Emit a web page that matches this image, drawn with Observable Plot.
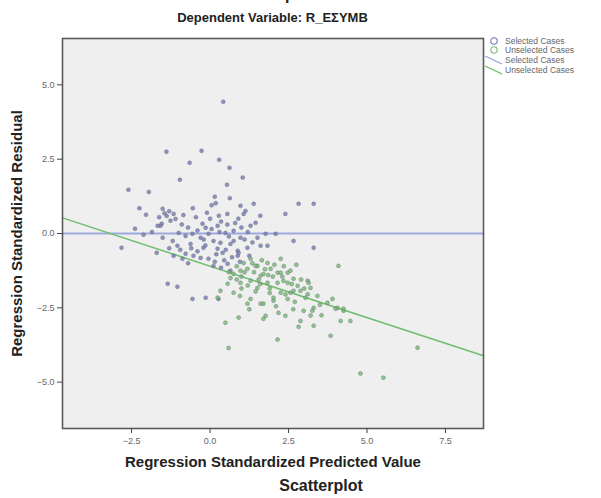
<!DOCTYPE html>
<html>
<head>
<meta charset="utf-8">
<script src="https://cdn.jsdelivr.net/npm/d3@7"></script>
<script src="https://cdn.jsdelivr.net/npm/@observablehq/plot@0.6"></script>
<style>
  body { margin: 0; background: #fff; font-family: "Liberation Sans", Arial, sans-serif; }
  #wrap { position: relative; width: 601px; height: 498px; overflow: hidden; }
  .head { position: relative; height: 30px; }
  .head div { position: absolute; left: 0; width: 545px; text-align: center; font-weight: bold; color: #222; white-space: nowrap; }
  .foot { position: relative; height: 22px; }
  .foot div { position: absolute; left: 0; width: 642px; text-align: center; font-weight: bold; font-size: 16px; color: #222; top: 1px; }
  .legend { position: absolute; left: 485px; top: 36px; font-size: 8.5px; color: #666; white-space: nowrap; }
  .legend .row { display: flex; align-items: center; height: 9.6px; }
  .legend svg { margin-right: 3px; }
</style>
</head>
<body>
<div id="wrap">
  <div class="head">
    <div style="top:-14px;font-size:16px">Scatterplot</div>
    <div style="top:10px;font-size:13px">Dependent Variable: R_ΕΣΥΜΒ</div>
  </div>
  <div id="chart"></div>
  <div class="foot"><div>Scatterplot</div></div>
  <div class="legend" id="legend"></div>
</div>
<script>
// Regression residual diagnostics: standardized predicted value vs standardized residual
const xTicks = [-2.5, 0, 2.5, 5, 7.5];
const yTicks = [-5, -2.5, 0, 2.5, 5];
const xDomain = [-4.70, 8.71];
const yDomain = [-6.56, 6.56];

// Selected cases
const selectedX = [0.42,-1.39,-0.27,-0.65,0.29,0.62,-0.96,1.04,-2.60,-1.95,0.54,0.15,0.63,0.18,-2.04,
  -1.51,-1.38,-1.16,-1.26,-1.54,-1.45,-1.10,0.97,1.13,1.39,1.07,0.55,0.28,-2.39,2.82,2.40,
  -0.24,-0.14,0.24,0.49,0.75,1.29,1.45,0.97,1.51,1.77,2.09,-1.00,-0.78,-0.56,-0.05,-0.30,
  0.11,0.33,0.65,-0.62,-0.21,0.24,0.40,0.88,1.19,1.61,1.83,-1.19,-1.04,-0.78,-0.53,-0.30,
  -0.05,-1.16,-0.88,0.11,0.56,0.88,0.91,-1.58,-1.51,-1.67,-2.12,-2.82,3.30,2.66,3.30,
  -1.35,-1.04,-0.56,-0.14,0.27,0.00,0.35,-0.45,0.80,1.00,-0.90,0.60,0.20,-0.60,0.45,0.70,1.10,-0.15,
  -1.30,-1.62,-0.85,-0.70,-0.40,-0.20,0.05,0.30,0.55,0.90,1.20,1.35,0.75,0.50,0.15,-0.40,-0.95,
  -1.30,-0.70,0.35,0.65,-0.10,0.05,-0.55,1.60,-2.25,-1.85,-1.70,0.95,1.25];
const selectedY = [4.43,2.75,2.78,2.38,2.48,2.21,1.81,1.88,1.47,1.40,1.64,1.24,1.19,1.02,0.63,
  0.83,0.59,0.66,0.43,0.33,0.68,0.49,0.93,0.76,1.00,0.66,0.66,0.60,0.16,1.00,0.66,
  0.33,0.19,0.26,0.02,0.09,0.26,0.36,-0.14,-0.14,-0.01,-0.01,0.02,-0.08,-0.01,-0.01,-0.14,
  -0.25,-0.31,-0.35,-0.35,-0.48,-0.51,-0.65,-0.58,-0.48,-0.41,-0.41,-0.25,-0.41,-0.68,-0.75,-0.82,
  -0.85,-0.75,-0.85,-1.09,-1.02,-0.75,-0.65,0.26,-0.14,0.26,-0.04,-0.48,1.00,-0.25,-0.48,
  -1.69,-1.79,-2.20,-2.16,-2.20,0.50,0.40,0.55,0.35,0.20,0.30,-0.10,-0.70,-0.50,-0.90,-0.80,-0.20,-0.40,
  0.75,0.55,0.62,0.20,0.10,-0.20,0.15,0.05,0.30,0.50,0.05,-0.30,-0.25,-0.55,-0.95,-0.60,-0.55,
  -0.50,-1.00,-1.15,-1.25,0.70,0.95,0.85,0.60,0.85,0.05,-0.65,-0.95,-0.75];

// Unselected cases
const unselectedX = [1.07,1.29,1.19,0.97,0.75,1.51,1.83,2.25,1.93,2.15,2.47,1.61,1.29,0.97,0.56,1.83,
  1.51,2.15,2.47,2.79,3.11,2.66,3.11,3.42,3.74,4.06,4.25,3.30,2.98,3.20,2.47,2.02,1.70,1.29,
  1.19,0.75,0.33,0.24,1.45,1.70,2.25,2.56,2.34,2.66,3.14,3.20,2.88,2.56,2.25,2.02,1.61,3.04,
  3.26,4.00,4.25,4.16,4.47,2.18,2.40,1.77,1.70,2.88,3.30,2.82,2.15,3.84,6.61,4.79,5.52,0.91,
  0.49,0.59,4.09,1.00,1.40,0.85,1.60,1.20,2.00,1.90,2.70,0.60,1.75,2.35,
  1.10,1.35,1.55,1.00,1.85,2.05,2.30,2.60,2.90,3.00,2.40,1.45,0.85,0.65,1.90,2.10,2.65,3.50,
  3.55,0.95,1.65,2.75,1.25,3.90];
const unselectedY = [-0.99,-0.85,-1.19,-1.25,-1.36,-1.09,-0.99,-0.85,-1.19,-1.32,-1.32,-1.42,-1.59,-1.66,-1.69,-1.66,
  -1.83,-1.66,-1.66,-1.76,-1.59,-1.93,-2.04,-2.10,-2.33,-2.50,-2.60,-2.50,-2.60,-2.76,-2.20,-2.26,-2.36,-2.20,
  -2.36,-1.99,-1.93,-2.16,-1.09,-1.36,-1.32,-1.25,-1.59,-1.52,-1.66,-1.83,-1.93,-1.99,-1.99,-2.16,-2.36,-2.16,
  -2.60,-2.53,-2.53,-2.94,-2.94,-2.67,-2.77,-2.77,-2.87,-2.94,-3.10,-3.14,-3.57,-3.44,-3.84,-4.71,-4.85,-2.83,
  -3.00,-3.85,-1.09,-1.45,-1.30,-1.10,-1.70,-1.75,-1.45,-1.85,-2.30,-1.30,-1.20,-1.10,
  -1.30,-1.00,-1.55,-1.85,-1.40,-1.05,-1.45,-1.70,-1.55,-1.85,-2.05,-1.95,-1.55,-1.50,-2.00,-2.45,-2.55,-2.40,
  -2.75,-2.10,-0.90,-1.05,-2.55,-2.20];

// Linear fit lines: [intercept, slope]
const fitSelected = [0, 0];
const fitUnselected = [-1.10, -0.346];

const groups = ["Selected Cases", "Unselected Cases"];
const colors = ["#737ab6", "#72bc72"];
const lineColors = ["#9eaadd", "#6fbd6f"];
const lineWidths = [2, 1.5];

const points = [
  ...selectedX.map((x, i) => ({x, y: selectedY[i], g: groups[0]})),
  ...unselectedX.map((x, i) => ({x, y: unselectedY[i], g: groups[1]}))
];
const fitRows = (coef, g) => xDomain.map(x => ({x, y: coef[0] + coef[1] * x, g}));
const fits = [...fitRows(fitSelected, groups[0]), ...fitRows(fitUnselected, groups[1])];

const chart = Plot.plot({
  width: 601,
  height: 446,
  marginLeft: 62,
  marginRight: 118,
  marginTop: 8,
  marginBottom: 48,
  style: {fontFamily: "Liberation Sans, Arial, sans-serif", background: "transparent"},
  x: {domain: xDomain},
  y: {domain: yDomain},
  color: {domain: groups, range: colors},
  marks: [
    Plot.frame({fill: "#efefef", stroke: "none"}),
    Plot.line(fits, {x: "x", y: "y", z: "g", stroke: "g", strokeWidth: 1.5}),
    Plot.dot(points, {x: "x", y: "y", r: 2, fill: "g", fillOpacity: 0.8, stroke: "#666670", strokeWidth: 0.6, strokeOpacity: 0.65}),
    Plot.frame({stroke: "#5a5a5a", strokeWidth: 1.6}),
    Plot.axisX({ticks: xTicks, tickFormat: d3.format(".1f"), tickSize: 5, tickPadding: 4, fontSize: 9, color: "#666", stroke: "#444", label: null}),
    Plot.axisY({ticks: yTicks, tickFormat: d3.format(".1f"), tickSize: 5, tickPadding: 3, fontSize: 9, color: "#666", stroke: "#444", label: null}),
    Plot.text(["Regression Standardized Predicted Value"], {frameAnchor: "bottom", dy: 38, textAnchor: "middle", fontWeight: "bold", fontSize: 15, fill: "#222"}),
    Plot.text(["Regression Standardized Residual"], {frameAnchor: "left", dx: -45, textAnchor: "middle", rotate: -90, fontWeight: "bold", fontSize: 15, fill: "#222"})
  ]
});
// fit lines take the lighter line palette and their own widths
chart.querySelectorAll("g[aria-label='line'] path").forEach((p, i) => {
  p.setAttribute("stroke", lineColors[i] ?? lineColors[0]);
  p.setAttribute("stroke-width", lineWidths[i] ?? 1.5);
});
document.getElementById("chart").append(chart);

// Legend: markers then fit lines
const legend = document.getElementById("legend");
const rows = [
  {kind: "dot", color: colors[0], text: groups[0]},
  {kind: "dot", color: colors[1], text: groups[1]},
  {kind: "line", color: lineColors[0], text: groups[0]},
  {kind: "line", color: lineColors[1], text: groups[1]}
];
rows.forEach(r => {
  const row = document.createElement("div");
  row.className = "row";
  const sw = r.kind === "dot"
    ? `<svg width="17" height="10"><circle cx="9" cy="5" r="3.2" fill="none" stroke="${r.color}" stroke-width="1.1"/></svg>`
    : `<svg width="17" height="10"><line x1="0" y1="1" x2="17" y2="9" stroke="${r.color}" stroke-width="1.2"/></svg>`;
  row.innerHTML = sw + `<span>${r.text}</span>`;
  legend.append(row);
});
</script>
</body>
</html>
